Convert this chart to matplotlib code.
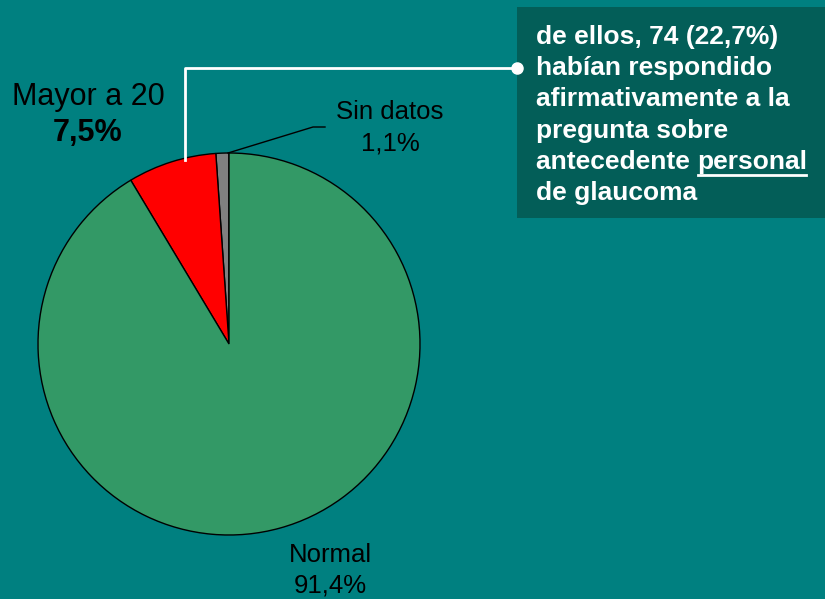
import matplotlib.pyplot as plt
from matplotlib.patches import Rectangle

plt.rcParams['font.family'] = ['Liberation Sans', 'DejaVu Sans']

# Data
labels = ['Sin datos', 'Mayor a 20', 'Normal']
values = [1.1, 7.5, 91.4]
colors = ['#808080', '#ff0000', '#339966']
box_lines = ['de ellos, 74 (22,7%)', 'habían respondido', 'afirmativamente a la',
             'pregunta sobre', 'antecedente ', 'de glaucoma']

W, H = 825, 599
fig = plt.figure(figsize=(W / 100, H / 100), dpi=100)
fig.patch.set_facecolor('#008080')
ax = fig.add_axes([0, 0, 1, 1])
ax.set_xlim(0, W)
ax.set_ylim(0, H)
ax.set_aspect('equal')
ax.axis('off')

def Y(y):
    return H - y

# Pie
cx, cy, r = 229, Y(344), 191
ax.pie(values, colors=colors, startangle=90, counterclock=True,
       center=(cx, cy), radius=r, frame=True,
       wedgeprops=dict(edgecolor='black', linewidth=1))
ax.set_xlim(0, W)
ax.set_ylim(0, H)
ax.axis('off')

# Labels
ax.text(88, Y(97), 'Mayor a 20', fontsize=22, ha='center', va='center')
ax.text(88, Y(133), '7,5%', fontsize=22, fontweight='bold', ha='center', va='center')
ax.text(390, Y(112), 'Sin datos', fontsize=18.5, ha='center', va='center')
ax.text(390, Y(143), '1,1%', fontsize=18.5, ha='center', va='center')
ax.text(330, Y(555), 'Normal', fontsize=18.5, ha='center', va='center')
ax.text(330, Y(585), '91,4%', fontsize=18.5, ha='center', va='center')

# leader for Sin datos
ax.plot([228, 313, 325], [Y(153), Y(127), Y(127)], color='black', lw=1)

# Callout box
ax.add_patch(Rectangle((517, Y(218)), W - 517, 211, facecolor='#035e58',
                       edgecolor='none'))
ax.plot([185, 185, 517], [Y(160), Y(68), Y(68)], color='white', lw=2)
ax.plot([517], [Y(68)], 'o', color='white', ms=8)

y0, dy = 37, 31.2
fig.canvas.draw()
renderer = fig.canvas.get_renderer()
for i, line in enumerate(box_lines):
    t = ax.text(536, Y(y0 + i * dy), line, fontsize=19, fontweight='bold',
                color='white', ha='left', va='center')
    if i == 4:
        bb = t.get_window_extent(renderer)
        t2 = ax.text(bb.x1, Y(y0 + i * dy), 'personal', fontsize=19,
                     fontweight='bold', color='white', ha='left', va='center')
        bb2 = t2.get_window_extent(renderer)
        ax.plot([bb2.x0 + 1, bb2.x1 - 1], [Y(y0 + i * dy + 13)] * 2,
                color='white', lw=2)

fig.savefig('out.png', dpi=100, facecolor=fig.get_facecolor())
